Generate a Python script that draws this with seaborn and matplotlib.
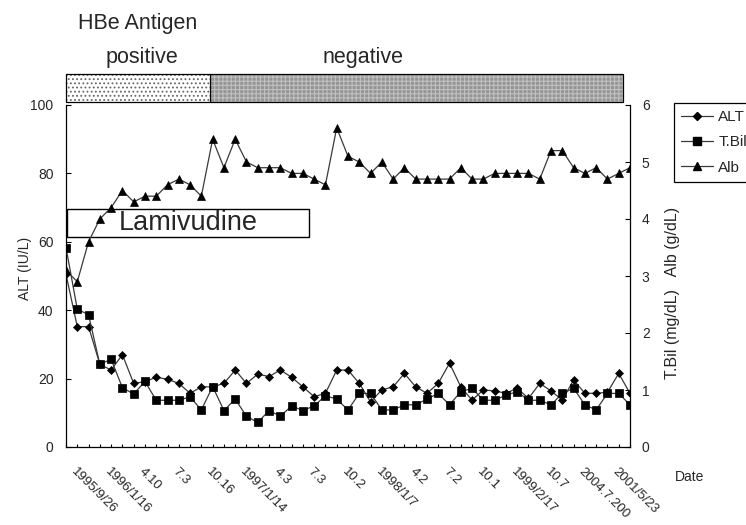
import numpy as np
import pandas as pd
import matplotlib
matplotlib.use("Agg")
import matplotlib.pyplot as plt
import seaborn as sns
from matplotlib.patches import Rectangle
from matplotlib.lines import Line2D

# ---------------- data ----------------
date_labels = ["1995/9/26", "1996/1/16", "4.10", "7.3", "10.16", "1997/1/14",
               "4.3", "7.3", "10.2", "1998/1/7", "4.2", "7.2", "10.1",
               "1999/2/17", "10.7", "2004.7.200", "2001/5/23"]

alt = [50.5, 35.2, 35.2, 24.2, 22.5, 27.0, 18.6, 19.1, 20.4, 19.8,
       18.6, 15.7, 17.6, 17.6, 18.6, 22.5, 18.6, 21.3, 20.6, 22.5,
       20.4, 17.6, 14.7, 15.7, 22.5, 22.5, 18.6, 13.2, 16.7, 17.6,
       21.5, 17.6, 15.7, 18.6, 24.5, 17.6, 13.7, 16.7, 16.4, 15.7,
       17.2, 14.2, 18.6, 16.4, 13.7, 19.6, 15.7, 15.7, 16.0, 21.5, 15.7]

tbil = [3.5, 2.42, 2.32, 1.45, 1.54, 1.04, 0.93, 1.15, 0.82, 0.82,
        0.82, 0.88, 0.65, 1.06, 0.64, 0.84, 0.54, 0.43, 0.64, 0.54,
        0.72, 0.64, 0.72, 0.90, 0.84, 0.65, 0.94, 0.94, 0.65, 0.65,
        0.74, 0.74, 0.84, 0.94, 0.74, 0.97, 1.03, 0.82, 0.82, 0.91,
        0.97, 0.82, 0.82, 0.74, 0.94, 1.03, 0.74, 0.65, 0.94, 0.94, 0.74]

alb = [3.1, 2.9, 3.6, 4.0, 4.2, 4.5, 4.3, 4.4, 4.4, 4.6,
       4.7, 4.6, 4.4, 5.4, 4.9, 5.4, 5.0, 4.9, 4.9, 4.9,
       4.8, 4.8, 4.7, 4.6, 5.6, 5.1, 5.0, 4.8, 5.0, 4.7,
       4.9, 4.7, 4.7, 4.7, 4.7, 4.9, 4.7, 4.7, 4.8, 4.8,
       4.8, 4.8, 4.7, 5.2, 5.2, 4.9, 4.8, 4.9, 4.7, 4.8, 4.9]

series_names = ["ALT", "T.Bil", "Alb"]
hbe_phases = ["positive", "negative"]

# ---------------- figure ----------------
sns.set_style("white")
plt.rcParams["font.family"] = ["Liberation Sans", "DejaVu Sans"]
plt.rcParams["hatch.linewidth"] = 0.8

W, H = 746, 525
fig = plt.figure(figsize=(W / 100, H / 100), dpi=100)
ax = fig.add_axes([66 / W, 1 - 447 / H, 564 / W, 342 / H])
ax2 = ax.twinx()

visits = np.arange(len(alt))
df = pd.DataFrame({"visit": visits, "ALT": alt, "T.Bil": tbil, "Alb": alb})

line_col = "#3a3a3a"
kw = dict(color=line_col, linewidth=0.9, markerfacecolor="black",
          markeredgecolor="black", markeredgewidth=0.5, legend=False)
sns.lineplot(data=df, x="visit", y="ALT", ax=ax, marker="D", markersize=4.2, **kw)
sns.lineplot(data=df, x="visit", y="T.Bil", ax=ax2, marker="s", markersize=5.2, **kw)
sns.lineplot(data=df, x="visit", y="Alb", ax=ax2, marker="^", markersize=6.2, **kw)

ax.set_xlim(0, len(alt) - 1)
ax.set_ylim(0, 100)
ax2.set_ylim(0, 6)
ax.set_xlabel("")
ax.set_ylabel("")
ax2.set_ylabel("")

ax.set_yticks([0, 20, 40, 60, 80, 100])
ax2.set_yticks([0, 1, 2, 3, 4, 5, 6])
label_pos = list(range(1, len(alt), 3))[:len(date_labels)]
ax.set_xticks(label_pos)
ax.set_xticklabels(date_labels)
ax.set_xticks(visits, minor=True)

for a in (ax, ax2):
    for s in a.spines.values():
        s.set_visible(False)
        s.set_color("black")
        s.set_linewidth(0.9)
ax.spines["left"].set_visible(True)
ax.spines["bottom"].set_visible(True)
ax2.spines["right"].set_visible(True)

ax.tick_params(axis="x", which="both", direction="in", length=2.5, width=0.8,
               color="black", pad=13.5, labelsize=9.5, bottom=True)
ax.tick_params(axis="y", direction="in", length=3.6, width=0.8, color="black",
               pad=9, labelsize=10, left=True)
ax2.tick_params(axis="y", direction="in", length=3.6, width=0.8, color="black",
                pad=8.5, labelsize=10, right=True)
for lab in ax.get_xticklabels():
    lab.set_rotation(-45)
    lab.set_ha("left")
    lab.set_va("top")
    lab.set_rotation_mode("anchor")
for lab in ax.get_yticklabels() + ax2.get_yticklabels():
    lab.set_fontfamily(["Liberation Sans Narrow", "Liberation Sans"])
ax.grid(False)
ax2.grid(False)

# Lamivudine box
ax.add_patch(Rectangle((0.001, 0.615), 0.430, 0.081, transform=ax.transAxes,
                       fill=False, edgecolor="black", linewidth=1.0, zorder=1))
ax.text(0.216, 0.655, "Lamivudine", transform=ax.transAxes, ha="center",
        va="center", fontsize=19.5, zorder=1)

# HBe antigen band
x0, xb, x1 = 66 / W, 210 / W, 623 / W
yb, hb = 1 - 101.7 / H, 27.7 / H
fig.patches.append(Rectangle((x0, yb), xb - x0, hb, transform=fig.transFigure,
                             facecolor="white", edgecolor="#666666", hatch="....",
                             linewidth=0))
fig.patches.append(Rectangle((xb, yb), x1 - xb, hb, transform=fig.transFigure,
                             facecolor="#959595", edgecolor="#c0c0c0", hatch="++++",
                             linewidth=0))
fig.patches.append(Rectangle((x0, yb), x1 - x0, hb, transform=fig.transFigure,
                             fill=False, edgecolor="black", linewidth=0.9))
fig.patches.append(Rectangle((xb, yb), 0, hb, transform=fig.transFigure,
                             fill=False, edgecolor="black", linewidth=0.9))

fig.text(78 / W, 1 - 29.5 / H, "HBe Antigen", ha="left", va="baseline", fontsize=15.5)
fig.text(142 / W, 1 - 63 / H, hbe_phases[0], ha="center", va="baseline", fontsize=15.5)
fig.text(363 / W, 1 - 63 / H, hbe_phases[1], ha="center", va="baseline", fontsize=15.5)

# axis titles
fig.text(25 / W, 1 - 268.5 / H, "ALT (IU/L)", rotation=90, ha="center", va="center",
         fontsize=10)
fig.text(673 / W, 1 - 293 / H, "T.Bil (mg/dL)   Alb (g/dL)", rotation=90,
         ha="center", va="center", fontsize=11.5)
fig.text(675 / W, 1 - 477 / H, "Date", ha="left", va="center", fontsize=10)

# legend
markers = ["D", "s", "^"]
msizes = [4.2, 5.2, 6.2]
handles = [Line2D([], [], color=line_col, linewidth=0.9, marker=m, markersize=ms,
                  markerfacecolor="black", markeredgecolor="black")
           for m, ms in zip(markers, msizes)]
leg = fig.legend(handles, series_names, loc="upper left",
                 bbox_to_anchor=(674 / W, 1 - 103 / H), borderaxespad=0,
                 frameon=True, fancybox=False, edgecolor="black", framealpha=1,
                 borderpad=0.45, labelspacing=0.75, handlelength=2.1,
                 handletextpad=0.35, fontsize=11)
leg.get_frame().set_linewidth(0.9)

fig.savefig("out.png", dpi=100)
